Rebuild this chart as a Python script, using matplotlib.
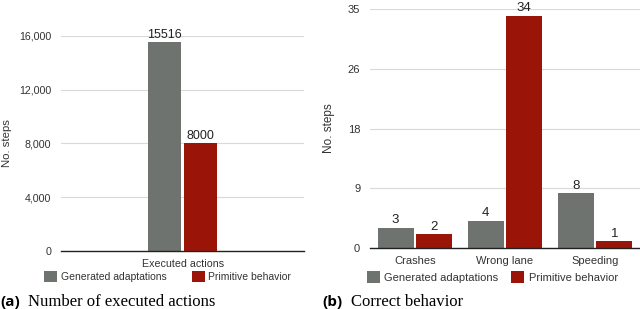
import numpy as np
import matplotlib
matplotlib.use("Agg")
import matplotlib.pyplot as plt

plt.rcParams['font.family'] = ['Liberation Sans', 'DejaVu Sans']

# data
series = ["Generated adaptations", "Primitive behavior"]
colors = ["#6e7370", "#9b1408"]

cats_a = ["Executed actions"]
gen_a = [15516]
prim_a = [8000]
yticks_a = [0, 4000, 8000, 12000, 16000]
yticklabels_a = ["0", "4,000", "8,000", "12,000", "16,000"]

cats_b = ["Crashes", "Wrong lane", "Speeding"]
gen_b = [3, 4, 8]
prim_b = [2, 34, 1]
yticks_b = [0, 8.75, 17.5, 26.25, 35]
yticklabels_b = ["0", "9", "18", "26", "35"]

fig = plt.figure(figsize=(6.4, 3.09), dpi=100)
ax1 = fig.add_axes([0.0953, 0.188, 0.38, 0.696])
ax2 = fig.add_axes([0.578, 0.197, 0.422, 0.774])


def style(ax, yticks, ylabels, top, fs, xpad):
    ax.set_ylim(0, top)
    ax.set_yticks(yticks)
    ax.set_yticklabels(ylabels, fontsize=fs, color="#333333")
    ax.grid(axis='y', color="#d9d9d9", linewidth=0.8)
    ax.set_axisbelow(True)
    for s in ["top", "right", "left"]:
        ax.spines[s].set_visible(False)
    ax.spines["bottom"].set_color("#222222")
    ax.spines["bottom"].set_linewidth(1.0)
    ax.tick_params(length=0, pad=7)
    ax.tick_params(axis='x', labelsize=fs, pad=xpad, labelcolor="#333333")
    ax.set_ylabel("No. steps", fontsize=fs + 0.5, color="#333333")


# panel (a)
x = np.arange(len(cats_a))
w = 0.136
b1 = ax1.bar(x - 0.074, gen_a, w, color=colors[0], label=series[0])
b2 = ax1.bar(x + 0.074, prim_a, w, color=colors[1], label=series[1])
ax1.set_xlim(-0.5, 0.5)
ax1.set_xticks(x)
ax1.set_xticklabels(cats_a)
style(ax1, yticks_a, yticklabels_a, 16000, 7.7, 5.5)
ax1.yaxis.set_label_coords(-0.2, 0.5)
for bars in (b1, b2):
    ax1.bar_label(bars, fontsize=9, padding=1, color="#222222")
ax1.legend(loc='center', bbox_to_anchor=(0.262, 0.104), bbox_transform=fig.transFigure,
           ncol=2, frameon=False, fontsize=7.5, handlelength=1.25, handleheight=1.25,
           columnspacing=2.4, handletextpad=0.35, labelcolor="#333333")

# panel (b)
x = np.arange(len(cats_b))
w = 0.4
b1 = ax2.bar(x - 0.215, gen_b, w, color=colors[0], label=series[0])
b2 = ax2.bar(x + 0.215, prim_b, w, color=colors[1], label=series[1])
ax2.set_xlim(-0.5, 2.5)
ax2.set_xticks(x)
ax2.set_xticklabels(cats_b)
style(ax2, yticks_b, yticklabels_b, 35, 8, 5.5)
ax2.yaxis.set_label_coords(-0.13, 0.5)
for bars in (b1, b2):
    ax2.bar_label(bars, fontsize=9.5, padding=1, color="#222222")
ax2.legend(loc='center', bbox_to_anchor=(0.769, 0.104), bbox_transform=fig.transFigure,
           ncol=2, frameon=False, fontsize=8, handlelength=1.2, handleheight=1.2,
           columnspacing=1.1, handletextpad=0.4, labelcolor="#333333")

# captions
fig.text(0.0, 0.024, "(a)", fontsize=11, fontweight='bold', family=['Open Sans', 'DejaVu Sans'], va='center')
fig.text(0.044, 0.024, "Number of executed actions", fontsize=12, family=['Liberation Serif', 'DejaVu Serif'], va='center')
fig.text(0.503, 0.024, "(b)", fontsize=11, fontweight='bold', family=['Open Sans', 'DejaVu Sans'], va='center')
fig.text(0.549, 0.024, "Correct behavior", fontsize=12, family=['Liberation Serif', 'DejaVu Serif'], va='center')

fig.savefig("out.png", dpi=100)
